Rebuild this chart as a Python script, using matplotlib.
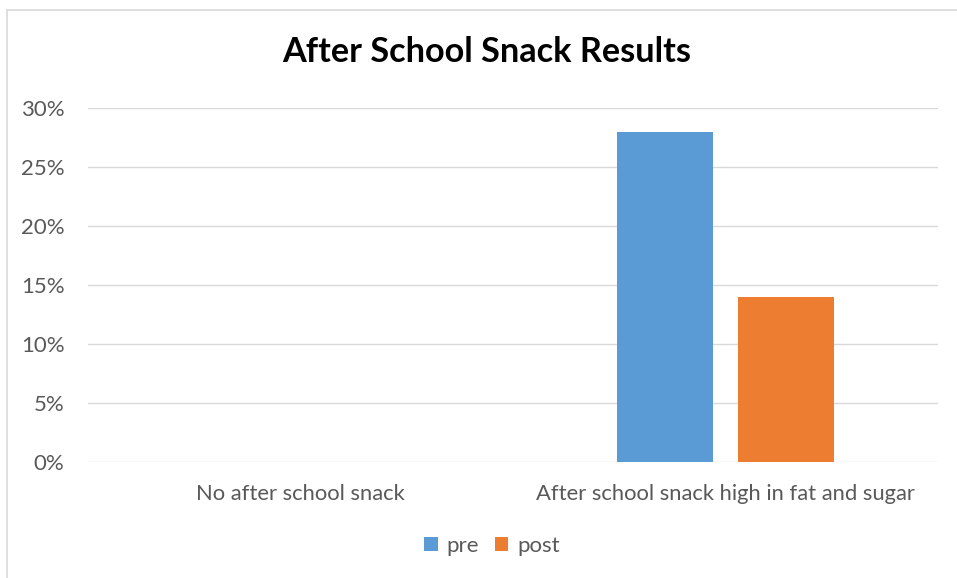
import matplotlib
matplotlib.use("Agg")
import matplotlib.pyplot as plt
from matplotlib.lines import Line2D
from matplotlib.ticker import PercentFormatter
import numpy as np

# data
categories = ["No after school snack", "After school snack high in fat and sugar"]
pre = [0.0, 0.28]
post = [0.0, 0.14]
series_names = ["pre", "post"]
yticks = [0, 0.05, 0.10, 0.15, 0.20, 0.25, 0.30]

plt.rcParams['font.family'] = ['Lato', 'DejaVu Sans']

W, H = 957, 578
fig = plt.figure(figsize=(W / 100, H / 100), dpi=100)
ax = fig.add_axes([88 / W, 1 - 462 / H, 850 / W, 354 / H])

x = np.arange(len(categories))
width = 0.226
b1 = ax.bar(x - 0.142, pre, width, color='#5B9BD5', label=series_names[0], zorder=3)
b2 = ax.bar(x + 0.142, post, width, color='#ED7D31', label=series_names[1], zorder=3)

ax.set_xlim(-0.5, 1.5)
ax.set_ylim(0, 0.30)
ax.set_yticks(yticks)
ax.yaxis.set_major_formatter(PercentFormatter(1.0, decimals=0))
ax.set_xticks(x)
ax.set_xticklabels(categories)
ax.tick_params(axis='y', length=0, pad=17, labelsize=16, labelcolor='#595959')
ax.tick_params(axis='x', length=0, pad=16, labelsize=15.8, labelcolor='#595959')
ax.grid(axis='y', color='#D9D9D9', linewidth=1.0, zorder=0)
for s in ax.spines.values():
    s.set_visible(False)

fig.text(486.5 / W, 1 - 52 / H, "After School Snack Results", ha='center', va='center',
         fontsize=24.7, fontweight='bold', color='black')

fig.legend(handles=[b1, b2], loc='center', bbox_to_anchor=(492 / W, 1 - 546 / H),
           ncol=2, frameon=False, fontsize=16, handlelength=0.6, handleheight=0.6,
           handletextpad=0.4, columnspacing=0.7, labelcolor='#595959')

# chart area border (left and top edges visible)
fig.add_artist(Line2D([6.5 / W, 6.5 / W], [0, 1 - 9.5 / H], transform=fig.transFigure,
                      color='#D9D9D9', linewidth=1.2))
fig.add_artist(Line2D([6.5 / W, 1], [1 - 9.5 / H, 1 - 9.5 / H], transform=fig.transFigure,
                      color='#D9D9D9', linewidth=1.2))

fig.savefig("out.png", dpi=100)
